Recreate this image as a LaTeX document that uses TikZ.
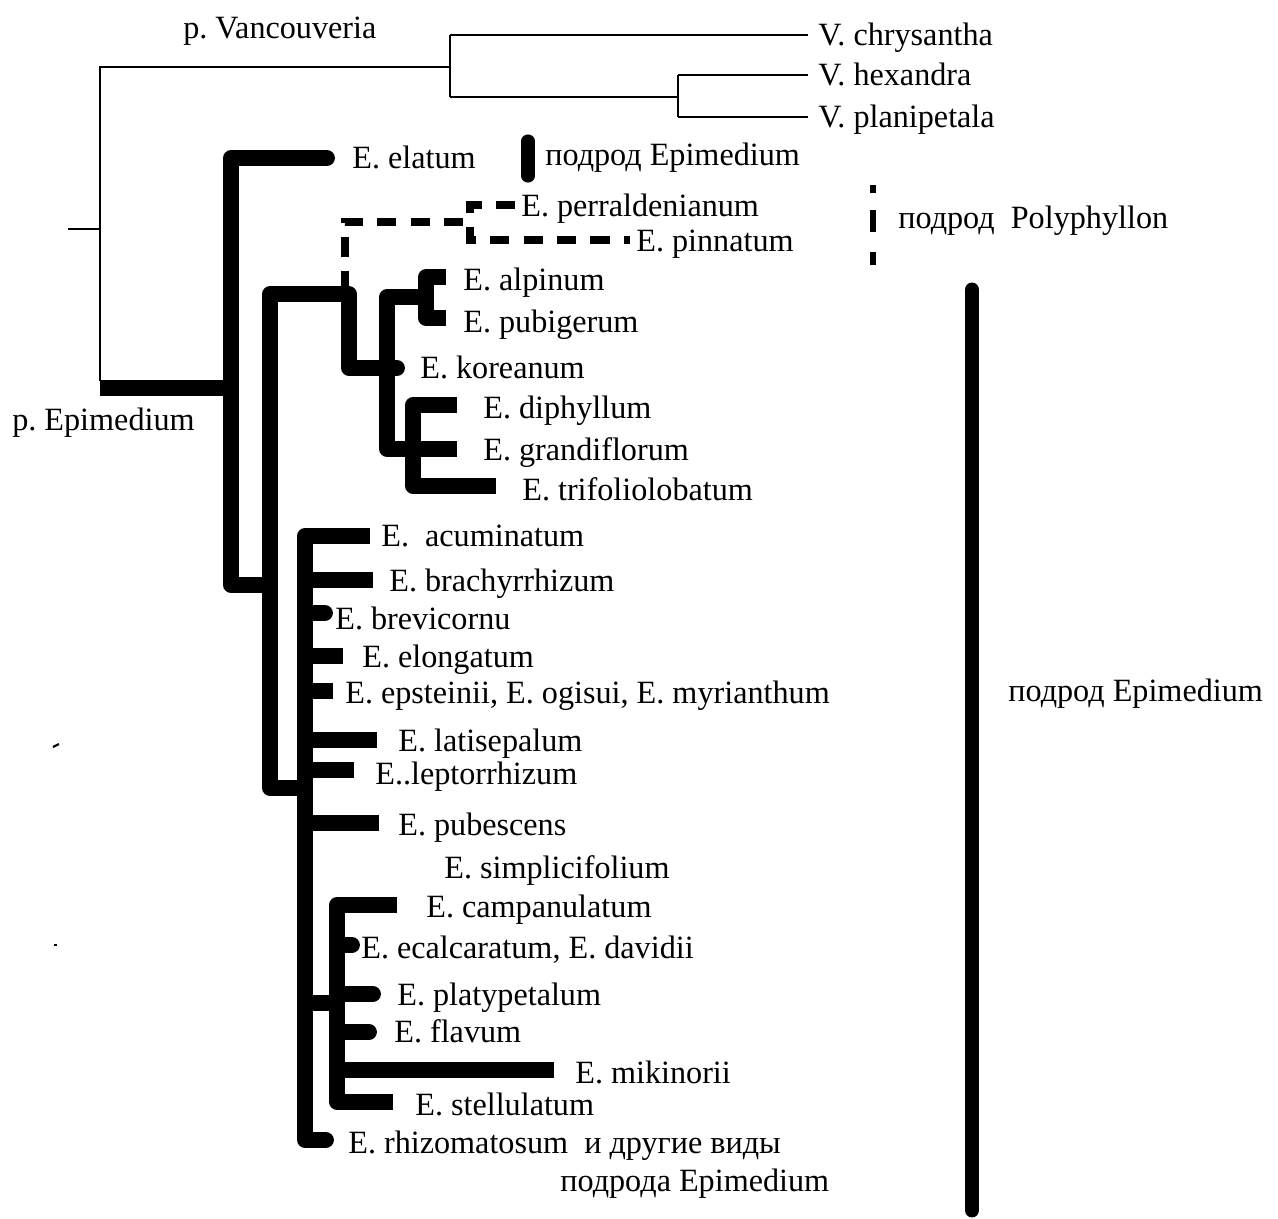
\documentclass[tikz,border=0pt]{standalone}
\usepackage{fontspec}
\setmainfont{Liberation Serif}[FakeStretch=0.99]
\frenchspacing
\begin{document}
\begin{tikzpicture}[x=0.02cm,y=-0.02cm,
  thinb/.style={line width=0.9pt},
  thk/.style={line width=9pt, line join=round, line cap=butt},
  thkr/.style={line width=9pt, line join=round, line cap=round},
  dsh/.style={line width=4pt, dash pattern=on 11pt off 8pt},
  lab/.style={font=\fontsize{18.5}{22}\selectfont\frenchspacing, anchor=base west, inner sep=0pt}]
\useasboundingbox (0,0) rectangle (1278,1219);

% ---------- thin tree (Vancouveria) ----------
\coordinate (r0) at (68,229);
\coordinate (r1) at (100,229);
\coordinate (vT) at (100,67);
\coordinate (vB) at (100,381);
\coordinate (van) at (450,67);
\coordinate (vanT) at (450,35);
\coordinate (vanB) at (450,97);
\coordinate (hex) at (678,97);
\coordinate (hexT) at (678,75);
\coordinate (hexB) at (678,117);
\coordinate (tChr) at (808,35);
\coordinate (tHex) at (808,75);
\coordinate (tPla) at (808,117);
\draw[thinb] (r0) -- (r1);
\draw[thinb] (vB) -- (vT) -- (van);
\draw[thinb] (vanT) -- (vanB);
\draw[thinb] (vanT) -- (tChr);
\draw[thinb] (vanB) -- (hex);
\draw[thinb] (hexT) -- (hexB);
\draw[thinb] (hexT) -- (tHex);
\draw[thinb] (hexB) -- (tPla);
\node[lab] (lVan) at (183,39) {p. Vancouveria};
\node[lab] (lChr) at (818,46) {V. chrysantha};
\node[lab] (lHex) at (818,86) {V. hexandra};
\node[lab] (lPla) at (818,128) {V. planipetala};

% ---------- thick tree (Epimedium) ----------
\coordinate (eRoot) at (100,388);
\coordinate (A) at (231,388);
\draw[thk] (eRoot) -- (A);
\node[lab] (lEpi) at (12,431) {p. Epimedium};

% clade A
\coordinate (tEla) at (327,158);
\coordinate (aBot) at (231,585);
\coordinate (bA) at (270,585);
\draw[thkr] (tEla) -| (aBot) -- (bA);
\node[lab] (lEla) at (352,169) {E. elatum};

% clade B
\coordinate (kTop) at (349,294);
\coordinate (bBot) at (270,788);
\coordinate (cB) at (305,788);
\draw[thk] (kTop) -| (bBot) -- (cB);

% Polyphyllon (dashed)
\coordinate (pJ) at (345,290);
\coordinate (pC) at (345,222);
\coordinate (pV) at (470,222);
\coordinate (pVT) at (470,205);
\coordinate (pVB) at (470,240);
\coordinate (tPer) at (515,205);
\coordinate (tPin) at (630,240);
\draw[dsh] (pJ) -- (pC) -- (pV);
\draw[dsh] (tPer) -- (pVT) -- (pVB) -- (tPin);
\node[lab] (lPer) at (521,217) {E. perraldenianum};
\node[lab] (lPin) at (636,252) {E. pinnatum};

% koreanum
\coordinate (tKor) at (397,368);
\draw[thkr] (kTop) |- (tKor);
\node[lab] (lKor) at (420,379) {E. koreanum};

% clade D / E / F
\coordinate (eMid) at (426,297);
\coordinate (dBot) at (387,449);
\coordinate (fMid) at (413,449);
\draw[thk] (eMid) -| (dBot) -- (fMid);
\coordinate (tAlp) at (446,277);
\coordinate (eB) at (426,318);
\coordinate (tPub) at (446,318);
\draw[thk] (tAlp) -| (eB) -- (tPub);
\node[lab] (lAlp) at (463,291) {E. alpinum};
\node[lab] (lPub) at (463,333) {E. pubigerum};
\coordinate (tDip) at (457,405);
\coordinate (fB) at (413,486);
\coordinate (tTri) at (496,486);
\coordinate (tGra) at (457,449);
\draw[thk] (tDip) -| (fB) -- (tTri);
\draw[thk] (fMid) -- (tGra);
\node[lab] (lDip) at (483,419) {E. diphyllum};
\node[lab] (lGra) at (483,461) {E. grandiflorum};
\node[lab] (lTri) at (522,501) {E. trifoliolobatum};

% clade C
\coordinate (tAcu) at (370,536);
\coordinate (cBot) at (305,1140);
\coordinate (tRhi) at (326,1140);
\draw[thk] (tAcu) -| (cBot);
\draw[thkr] (cBot) -- (tRhi);
\coordinate (tBra) at (373,580);
\coordinate (tBre) at (325,613);
\coordinate (tElo) at (343,656);
\coordinate (tEps) at (333,691);
\coordinate (tLat) at (377,740);
\coordinate (tLep) at (354,770);
\coordinate (tPbs) at (379,823);
\draw[thk] (tBra -| cBot) -- (tBra);
\draw[thkr] (tBre -| cBot) -- (tBre);
\draw[thk] (tElo -| cBot) -- (tElo);
\draw[thk] (tEps -| cBot) -- (tEps);
\draw[thk] (tLat -| cBot) -- (tLat);
\draw[thk] (tLep -| cBot) -- (tLep);
\draw[thk] (tPbs -| cBot) -- (tPbs);
\node[lab] (lAcu) at (381,547) {E.\ \ acuminatum};
\node[lab] (lBra) at (389,591) {E. brachyrrhizum};
\node[lab] (lBre) at (335,629) {E. brevicornu};
\node[lab] (lElo) at (362,667) {E. elongatum};
\node[lab] (lEps) at (345,703) {E. epsteinii, E. ogisui, E. myrianthum};
\node[lab] (lLat) at (398,751) {E. latisepalum};
\node[lab] (lLep) at (375,784) {E..leptorrhizum};
\node[lab] (lPbs) at (398,835) {E. pubescens};
\node[lab] (lSim) at (444,878) {E. simplicifolium};
\node[lab] (lRhi) at (348,1153) {E. rhizomatosum\ \ и другие виды};
\node[lab] (lRhi2) at (560,1191) {подрода Epimedium};

% clade G
\coordinate (tCam) at (397,905);
\coordinate (gBot) at (337,1102);
\coordinate (tSte) at (393,1102);
\coordinate (gJ) at (337,1003);
\draw[thk] (tCam) -| (gBot) -- (tSte);
\draw[thk] (gJ -| cBot) -- (gJ);
\coordinate (tEca) at (352,945);
\coordinate (tPla2) at (373,994);
\coordinate (tFla) at (369,1032);
\coordinate (tMik) at (554,1070);
\draw[thkr] (tEca -| gBot) -- (tEca);
\draw[thkr] (tPla2 -| gBot) -- (tPla2);
\draw[thkr] (tFla -| gBot) -- (tFla);
\draw[thk] (tMik -| gBot) -- (tMik);
\node[lab] (lCam) at (426,917) {E. campanulatum};
\node[lab] (lEca) at (361,958) {E. ecalcaratum, E. davidii};
\node[lab] (lPla2) at (397,1005) {E. platypetalum};
\node[lab] (lFla) at (394,1042) {E. flavum};
\node[lab] (lMik) at (575,1083) {E. mikinorii};
\node[lab] (lSte) at (415,1115) {E. stellulatum};

% ---------- subgenus bars ----------
\coordinate (s1T) at (528,141);
\coordinate (s1B) at (528,176);
\draw[line width=7.5pt, line cap=round] (s1T) -- (s1B);
\node[lab] (lS1) at (545,166) {подрод Epimedium};

\coordinate (s2T) at (873,185);
\coordinate (s2B) at (873,265);
\draw[line width=3.5pt, dash pattern=on 4.5pt off 9.6pt on 12.5pt off 11.3pt on 7.4pt off 20pt] (s2T) -- (s2B);
\node[lab] (lS2) at (898,229) {подрод\ \ Polyphyllon};

\coordinate (s3T) at (972,290);
\coordinate (s3B) at (972,1210);
\draw[line width=8.5pt, line cap=round] (s3T) -- (s3B);
\node[lab] (lS3) at (1008,701) {подрод Epimedium};

% stray specks
\draw[line width=1.2pt] (53,747) -- (59,744);
\draw[line width=1.2pt] (54,945) -- (57,945);
\end{tikzpicture}
\end{document}
